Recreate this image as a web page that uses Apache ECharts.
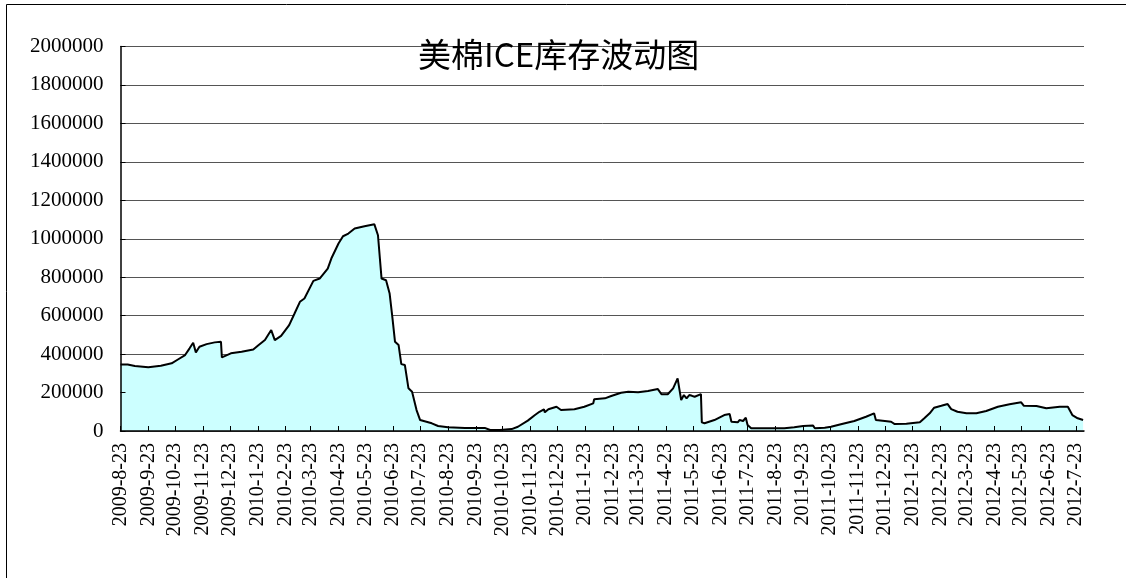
<!DOCTYPE html>
<html>
<head>
<meta charset="utf-8">
<title>美棉ICE库存波动图</title>
<script src="https://cdn.jsdelivr.net/npm/echarts@6/dist/echarts.min.js"></script>
<style>
  html, body { margin: 0; padding: 0; background: #fff; }
  #main { width: 1126px; height: 578px; }
</style>
</head>
<body>
<div id="main"></div>
<script>
// 起始日期 2009-8-23，days 为距起始日的天数
var startDate = [2009, 8, 23];
var days = [0, 8, 16, 31, 45, 57, 64, 72, 77, 81, 84, 88, 96, 105, 112, 113, 123, 135, 148, 153,
  161, 168, 172, 179, 188, 194, 200, 205, 215, 222, 231, 235, 243, 248, 254, 261, 272, 283, 287, 291,
  296, 300, 303, 306, 310, 313, 317, 321, 325, 330, 334, 341, 347, 354, 365, 384, 406, 412, 423, 436,
  443, 454, 462, 467, 472, 473, 477, 486, 491, 506, 517, 527, 528, 540, 547, 558, 566, 577, 588, 599,
  603, 610, 616, 621, 623, 625, 628, 631, 634, 637, 640, 647, 648, 651, 662, 673, 679, 681, 688, 690,
  694, 697, 699, 703, 722, 740, 751, 761, 772, 774, 785, 792, 803, 818, 831, 840, 842, 852, 859, 863,
  876, 891, 896, 902, 907, 915, 922, 926, 933, 943, 954, 965, 978, 991, 1004, 1007, 1021, 1032, 1047, 1056,
  1061, 1067, 1073];
// ICE 库存
var stock = [346000, 346000, 338000, 331000, 339000, 352000, 372000, 395000, 430000, 459000, 409000, 438000, 452000, 461000, 464000, 383000, 404000, 412000, 424000, 443000,
  473000, 525000, 473000, 495000, 551000, 611000, 672000, 689000, 781000, 793000, 845000, 897000, 975000, 1013000, 1027000, 1053000, 1065000, 1075000, 1018000, 793000,
  784000, 715000, 594000, 464000, 447000, 348000, 343000, 222000, 204000, 109000, 57000, 48000, 40000, 26000, 19000, 16000, 16000, 5000, 5000, 10000,
  22000, 54000, 83000, 100000, 113000, 97000, 113000, 126000, 109000, 113000, 126000, 144000, 165000, 170000, 182000, 199000, 204000, 201000, 208000, 218000,
  191000, 191000, 222000, 274000, 282000, 161000, 187000, 170000, 187000, 183000, 178000, 192000, 45000, 40000, 57000, 83000, 88000, 48000, 45000, 57000,
  52000, 69000, 31000, 14000, 14000, 14000, 19000, 26000, 28000, 14000, 17000, 22000, 35000, 52000, 74000, 92000, 57000, 52000, 48000, 36000,
  38000, 45000, 66000, 92000, 121000, 131000, 140000, 114000, 100000, 92000, 92000, 104000, 126000, 139000, 149000, 131000, 130000, 118000, 126000, 126000,
  83000, 66000, 57000];
// x轴刻度标签
var monthLabels = ['2009-8-23', '2009-9-23', '2009-10-23', '2009-11-23', '2009-12-23',
  '2010-1-23', '2010-2-23', '2010-3-23', '2010-4-23', '2010-5-23', '2010-6-23', '2010-7-23',
  '2010-8-23', '2010-9-23', '2010-10-23', '2010-11-23', '2010-12-23',
  '2011-1-23', '2011-2-23', '2011-3-23', '2011-4-23', '2011-5-23', '2011-6-23', '2011-7-23',
  '2011-8-23', '2011-9-23', '2011-10-23', '2011-11-23', '2011-12-23',
  '2012-1-23', '2012-2-23', '2012-3-23', '2012-4-23', '2012-5-23', '2012-6-23', '2012-7-23'];
var endDay = 1074; // 2012-8-1

var t0 = Date.UTC(startDate[0], startDate[1] - 1, startDate[2]);
var tickDays = [];
var labelOf = {};
monthLabels.forEach(function (s) {
  var p = s.split('-');
  var d = Math.round((Date.UTC(+p[0], +p[1] - 1, +p[2]) - t0) / 86400000);
  tickDays.push(d);
  labelOf[d] = s;
});

var seriesData = days.map(function (d, i) { return [d, stock[i]]; });

var serif = '"Liberation Serif", "Times New Roman", serif';
var chart = echarts.init(document.getElementById('main'));
chart.setOption({
  animation: false,
  backgroundColor: '#fff',
  graphic: [{
    type: 'rect',
    shape: { x: 6.5, y: 4.5, width: 1400, height: 800 },
    style: { fill: 'none', stroke: '#000', lineWidth: 1 },
    silent: true
  }],
  title: {
    text: '美棉ICE库存波动图',
    left: 413,
    top: 33,
    textStyle: {
      fontFamily: '"Noto Sans CJK SC", sans-serif',
      fontSize: 33,
      fontWeight: 'normal',
      color: '#000'
    }
  },
  grid: {
    left: 120.5,
    right: 42,
    top: 46.5,
    bottom: 147
  },
  xAxis: {
    type: 'value',
    min: 0,
    max: endDay,
    z: 3,
    splitLine: { show: false },
    axisLine: { lineStyle: { color: '#000', width: 1.5 } },
    axisTick: {
      inside: true,
      length: 5,
      customValues: tickDays,
      lineStyle: { color: '#000' }
    },
    axisLabel: {
      customValues: tickDays,
      rotate: 90,
      margin: 12,
      color: '#000',
      fontFamily: serif,
      fontSize: 20,
      formatter: function (v) { return labelOf[Math.round(v)] || ''; }
    }
  },
  yAxis: [{
    // 网格线，在面积下面
    type: 'value',
    min: 0,
    max: 2000000,
    interval: 200000,
    z: 0,
    axisLine: { show: false },
    axisTick: { show: false },
    axisLabel: { show: false },
    splitLine: { show: true, lineStyle: { color: '#555', width: 1 } }
  }, {
    // 轴线、刻度、标签，在面积上面
    type: 'value',
    min: 0,
    max: 2000000,
    interval: 200000,
    z: 3,
    position: 'left',
    axisLine: { show: true, lineStyle: { color: '#000', width: 1.5 } },
    axisTick: { show: true, inside: true, length: 5, lineStyle: { color: '#000' } },
    splitLine: { show: false },
    axisLabel: {
      margin: 17,
      color: '#000',
      fontFamily: serif,
      fontSize: 21,
      formatter: function (v) { return String(v); }
    }
  }],
  series: [{
    name: 'ICE库存',
    type: 'line',
    yAxisIndex: 0,
    data: seriesData,
    showSymbol: false,
    symbol: 'none',
    lineStyle: { color: '#000', width: 2 },
    areaStyle: { color: '#CCFFFF', opacity: 1 }
  }]
});
</script>
</body>
</html>
